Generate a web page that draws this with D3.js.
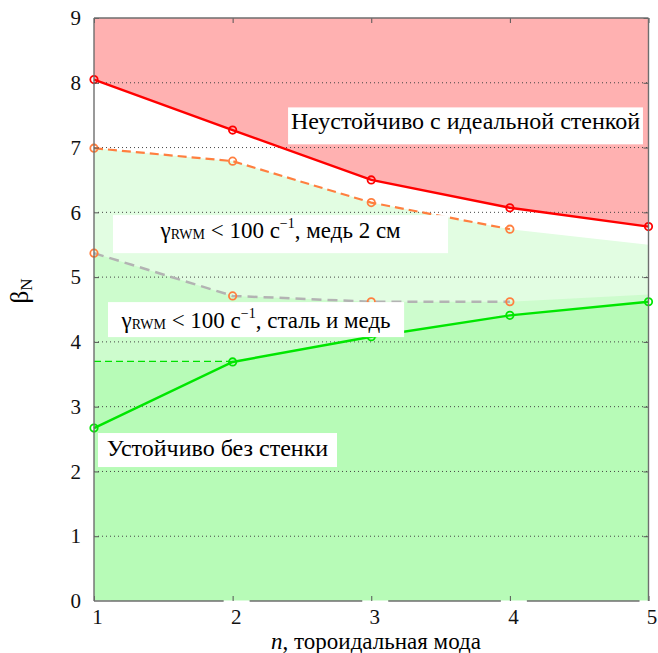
<!DOCTYPE html>
<html>
<head>
<meta charset="utf-8">
<script src="https://cdn.jsdelivr.net/npm/d3@7"></script>
<style>
  body { margin: 0; background: #fff; }
  svg { display: block; }
</style>
</head>
<body>
<svg id="chart" width="658" height="653"></svg>
<script>
// toroidal mode numbers
var modes = [1, 2, 3, 4, 5];
var wallModes = [1, 2, 3, 4];

// beta_N limits
var idealWall   = [8.05, 7.27, 6.50, 6.07, 5.78];
var copper2cm   = [6.99, 6.79, 6.15, 5.74];
var steelCopper = [5.37, 4.71, 4.62, 4.62];
var noWall      = [2.67, 3.69, 4.08, 4.41, 4.62];
var noWallDashModes = [1, 2];
var noWallDash  = [3.70, 3.70];

// upper edges of the shaded bands (n = 1..5)
var copperBand = [6.99, 6.79, 6.15, 5.74, 5.50];
var steelBand  = [5.37, 4.71, 4.62, 4.62, 4.73];
var stableBand = [3.70, 3.69, 4.08, 4.41, 4.62];

var xTicks = [1, 2, 3, 4, 5];
var yTicks = [0, 1, 2, 3, 4, 5, 6, 7, 8, 9];
var gridTicks = [1, 2, 3, 4, 5, 6, 7, 8];

var labelTexts = ["Неустойчиво с идеальной стенкой", ", медь 2 см", ", сталь и медь", "Устойчиво без стенки"];

var serif = "Liberation Serif";

var svg = d3.select('#chart');

var x = d3.scaleLinear().domain([1, 5]).range([94, 648.5]);
var y = d3.scaleLinear().domain([0, 9]).range([601, 18]);

function pts(xs, ys) {
    return xs.map(function(d, i) { return [d, ys[i]]; });
}

var line = d3.line()
    .x(function(d) { return x(d[0]); })
    .y(function(d) { return y(d[1]); });

function band(ys, base) {
    var a = d3.area()
        .x(function(d) { return x(d[0]); })
        .y0(y(base))
        .y1(function(d) { return y(d[1]); });
    return a(pts(modes, ys));
}

// shaded regions
svg.append("path").attr("d", band(idealWall, 9)).attr("fill", "#ffb1b1");
svg.append("path").attr("d", band(copperBand, 0)).attr("fill", "#e2fde2");
svg.append("path").attr("d", band(steelBand, 0)).attr("fill", "#cdfccd");
svg.append("path").attr("d", band(stableBand, 0)).attr("fill", "#b7fbb7");

// dotted grid
svg.selectAll("line.grid")
    .data(gridTicks)
    .enter()
    .append("line")
    .attr("class", "grid")
    .attr("x1", x(1)).attr("x2", x(5))
    .attr("y1", function(d) { return y(d); })
    .attr("y2", function(d) { return y(d); })
    .attr("stroke", "#444")
    .attr("stroke-width", 1)
    .attr("stroke-dasharray", "1,3");

// curves
function drawSeries(xs, ys, color, width, dash, markerColor) {
    svg.append("path")
        .attr("d", line(pts(xs, ys)))
        .attr("fill", "none")
        .attr("stroke", color)
        .attr("stroke-width", width)
        .attr("stroke-dasharray", dash);
    if (markerColor) {
        svg.selectAll(null)
            .data(pts(xs, ys))
            .enter()
            .append("circle")
            .attr("cx", function(d) { return x(d[0]); })
            .attr("cy", function(d) { return y(d[1]); })
            .attr("r", 3.7)
            .attr("fill", "none")
            .attr("stroke", markerColor)
            .attr("stroke-width", 1.8);
    }
}

drawSeries(noWallDashModes, noWallDash, "#00e000", 1.2, "7,4", null);
drawSeries(wallModes, steelCopper, "#b3b3b3", 2.5, "10,6", "#ff7f3f");
drawSeries(wallModes, copper2cm, "#ff7f3f", 2.2, "9,5", "#ff7f3f");
drawSeries(modes, idealWall, "#ff0000", 2.4, null, "#ff0000");
drawSeries(modes, noWall, "#00e600", 2.4, null, "#00e600");

// annotation boxes (positions in data units)
function box(n0, n1, b0, b1) {
    svg.append("rect")
        .attr("x", x(n0)).attr("width", x(n1) - x(n0))
        .attr("y", y(b0)).attr("height", y(b1) - y(b0))
        .attr("fill", "#fff");
}

box(2.40, 4.96, 7.62, 7.05);
box(1.137, 3.554, 5.957, 5.370);
box(1.101, 3.237, 4.614, 4.074);
box(1.029, 2.753, 2.593, 2.068);

var fs = 24;

svg.append("text")
    .attr("x", x(3.68)).attr("y", y(7.28))
    .attr("text-anchor", "middle")
    .style("font-family", serif)
    .attr("font-size", fs)
    .text(labelTexts[0]);

svg.append("text")
    .attr("x", x(1.891)).attr("y", y(2.242))
    .attr("text-anchor", "middle")
    .style("font-family", serif)
    .attr("font-size", fs)
    .text(labelTexts[3]);

function gammaLabel(nx, by, tail) {
    var t = svg.append("text")
        .attr("x", x(nx)).attr("y", y(by))
        .attr("text-anchor", "middle")
        .style("font-family", serif)
        .attr("font-size", 23);
    t.append("tspan").text("γ");
    t.append("tspan").attr("font-size", 14).attr("dy", 1.5).text("RWM");
    t.append("tspan").attr("dy", -1.5).text(" < 100 с");
    t.append("tspan").attr("font-size", 14).attr("dy", -10).text("−1");
    t.append("tspan").attr("dy", 10).text(tail);
}

gammaLabel(2.346, 5.61, labelTexts[1]);
gammaLabel(2.169, 4.218, labelTexts[2]);

// axes: inward ticks on every side
var gl = svg.append("g")
    .attr("transform", "translate(" + x(1) + ",0)")
    .call(d3.axisLeft(y).tickValues(yTicks).tickSize(-5).tickPadding(13).tickFormat(d3.format("d")));
var gr = svg.append("g")
    .attr("transform", "translate(" + x(5) + ",0)")
    .call(d3.axisRight(y).tickValues(yTicks).tickSize(-5).tickFormat(""));
var gt = svg.append("g")
    .attr("transform", "translate(0," + y(9) + ")")
    .call(d3.axisTop(x).tickValues(xTicks).tickSize(-5).tickFormat(""));

// white patches behind x tick labels (they cut the bottom frame line)
svg.selectAll("rect.tickbg")
    .data(xTicks)
    .enter()
    .append("rect")
    .attr("class", "tickbg")
    .attr("x", function(d) { return x(d) - 9; })
    .attr("width", 26)
    .attr("y", y(0) - 0.5)
    .attr("height", 26)
    .attr("fill", "#fff");

var gb = svg.append("g")
    .attr("transform", "translate(0," + y(0) + ")")
    .call(d3.axisBottom(x).tickValues(xTicks).tickSize(-5).tickPadding(8).tickFormat(d3.format("d")));

[gl, gr, gt, gb].forEach(function(g) {
    g.attr("font-family", serif);
    g.select(".domain").remove();
    g.selectAll(".tick line").attr("stroke", "#555").attr("stroke-width", 1);
    g.selectAll(".tick text")
        .style("font-family", serif)
        .attr("font-size", 21)
        .attr("fill", "#111");
});
gb.selectAll(".tick text").attr("dx", 3);

// frame
var frame = svg.append("g").attr("fill", "none").attr("stroke", "#6e6e6e").attr("stroke-width", 1.4);
frame.append("line").attr("x1", x(1)).attr("x2", x(1)).attr("y1", y(0)).attr("y2", y(9));
frame.append("line").attr("x1", x(1)).attr("x2", x(5)).attr("y1", y(9)).attr("y2", y(9));
frame.append("line").attr("x1", x(5)).attr("x2", x(5)).attr("y1", y(0)).attr("y2", y(9));
xTicks.slice(0, -1).forEach(function(d) {
    // bottom frame line, broken by the label patches
    frame.append("line")
        .attr("x1", d === 1 ? x(d) : x(d) + 17)
        .attr("x2", x(d + 1) - 9)
        .attr("y1", y(0)).attr("y2", y(0));
});

// axis titles
var yl = svg.append("text")
    .attr("transform", "translate(28," + 291 + ") rotate(-90)")
    .attr("text-anchor", "middle")
    .style("font-family", serif)
    .attr("font-size", 25);
yl.append("tspan").text("β");
yl.append("tspan").attr("font-size", 17).attr("dy", 4).text("N");

var xl = svg.append("text")
    .attr("x", 376).attr("y", 649)
    .attr("text-anchor", "middle")
    .style("font-family", serif)
    .attr("font-size", 23);
xl.append("tspan").attr("font-style", "italic").text("n");
xl.append("tspan").text(", тороидальная мода");
</script>
</body>
</html>
